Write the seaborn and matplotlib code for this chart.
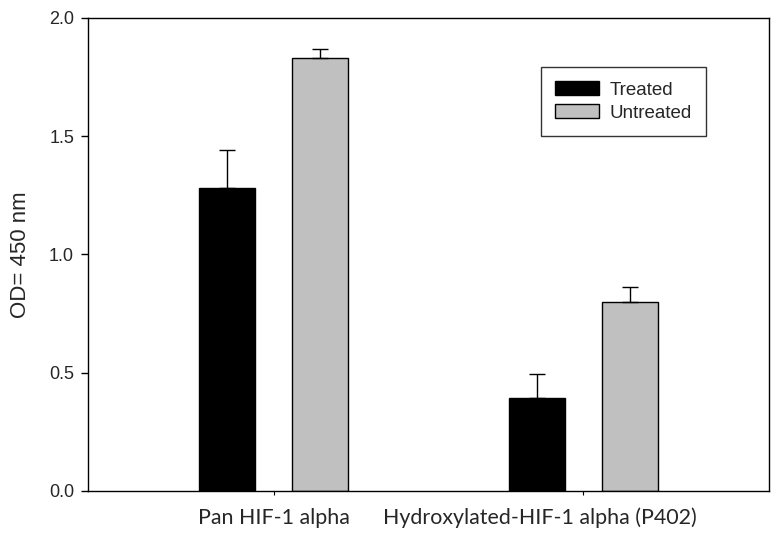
import matplotlib
matplotlib.use("Agg")
import matplotlib.pyplot as plt
import matplotlib.transforms as mtransforms
from matplotlib.patches import Patch
import seaborn as sns
import pandas as pd

categories = ["Pan HIF-1 alpha", "Hydroxylated-HIF-1 alpha (P402)"]
groups = ["Treated", "Untreated"]
treated = [1.28, 0.393]
untreated = [1.83, 0.80]
treated_err = [0.16, 0.10]
untreated_err = [0.04, 0.063]
yticks = [0.0, 0.5, 1.0, 1.5, 2.0]
colors = {"Treated": "#000000", "Untreated": "#c0c0c0"}

df = pd.DataFrame({
    "category": categories * 2,
    "group": ["Treated"] * 2 + ["Untreated"] * 2,
    "value": treated + untreated,
})
errs = {"Treated": treated_err, "Untreated": untreated_err}

sns.set_style("white")
plt.rcParams["font.family"] = ["Liberation Sans", "DejaVu Sans"]

fig = plt.figure(figsize=(7.8, 5.37), dpi=100)
ax = fig.add_axes([0.1128, 0.0857, 0.8731, 0.8808])

sns.barplot(data=df, x="category", y="value", hue="group", order=categories,
            hue_order=groups, palette=colors, width=0.6, gap=0.4,
            edgecolor="black", linewidth=1.0, legend=False, ax=ax, errorbar=None)

for g, cont in zip(groups, ax.containers):
    for bar, e in zip(cont, errs[g]):
        xc = bar.get_x() + bar.get_width() / 2
        h = bar.get_height()
        ax.errorbar([xc], [h], yerr=[[0], [e]], fmt="none", ecolor="black",
                    elinewidth=1.0, capsize=6, capthick=1.0, zorder=1)

ax.set_xlim(-0.6, 1.6)
ax.set_ylim(0, 2.0)
ax.set_yticks(yticks)
ax.set_yticklabels([f"{t:.1f}" for t in yticks], fontsize=13,
                   family=["Liberation Sans", "DejaVu Sans"])
ax.set_xticks(range(len(categories)))
ax.set_xticklabels(categories, fontsize=15.4, family=["Lato", "DejaVu Sans"])
ax.tick_params(axis="y", direction="out", length=5, width=1, color="black", pad=5, left=True)
ax.tick_params(axis="x", direction="out", length=3, width=0.8, color="black", pad=9, bottom=True)

# second category label sits left of its tick in the reference
lab = ax.get_xticklabels()[1]
lab.set_transform(lab.get_transform() + mtransforms.ScaledTranslation(-0.43, 0, fig.dpi_scale_trans))

ax.set_xlabel("")
ax.set_ylabel("OD= 450 nm", fontsize=16, labelpad=13,
              family=["Liberation Sans", "DejaVu Sans"])

for s in ax.spines.values():
    s.set_visible(True)
    s.set_color("black")
    s.set_linewidth(1.0)

handles = [Patch(facecolor=colors[g], edgecolor="black", linewidth=1.0, label=g) for g in groups]
leg = ax.legend(handles=handles, loc="upper right", bbox_to_anchor=(0.907, 0.896),
                prop={"family": ["Liberation Sans", "DejaVu Sans"], "size": 13.5},
                frameon=True, fancybox=False, edgecolor="black",
                borderpad=0.75, handlelength=2.35, handleheight=0.75,
                handletextpad=0.55, labelspacing=0.3, borderaxespad=0)
leg.get_frame().set_linewidth(1.0)

fig.savefig("out.png", dpi=100)
